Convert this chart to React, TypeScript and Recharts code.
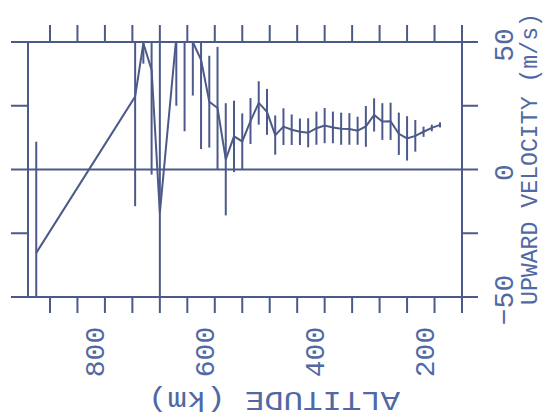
import React from 'react';
import {
  ComposedChart,
  Line,
  XAxis,
  YAxis,
  ErrorBar,
  ReferenceLine,
} from 'recharts';

// altitude (km), upward velocity (m/s) and its error half-width
const altitudes = [
  925, 745, 730, 715, 700, 670, 655, 640, 625, 610, 595, 580, 565, 550, 535,
  520, 505, 490, 475, 460, 445, 430, 415, 400, 385, 370, 355, 340, 325, 310,
  295, 280, 265, 250, 235, 220, 205, 190,
];
const velocity = [
  -32.7, 28.6, 49.5, 39, -17, 52, 53, 50, 43, 26.6, 24.1, 4, 13, 11, 19,
  26.1, 22.6, 13.5, 16.8, 15.6, 14.8, 14.4, 16.2, 17.2, 16.5, 16, 15.9, 15.2, 16.9, 21.4,
  18.8, 18.9, 14, 12.2, 13.2, 14.8, 16.3, 17.5,
];
const errors = [
  43.6, 43, 8, 41, 70, 27, 38, 21, 35, 18, 24, 22, 14, 11, 9,
  8.5, 9, 7.7, 7.2, 6, 5.2, 5.7, 6.5, 6.9, 6.2, 6.3, 6.2, 5.5, 8, 6.5,
  7.2, 7.3, 8.3, 8.7, 6.2, 2, 1.3, 1,
];

const altTicks = [150, 200, 250, 300, 350, 400, 450, 500, 550, 600, 650, 700, 750, 800, 850, 900];
const altLabels = [800, 600, 400, 200];
const velTicks = [-50, -25, 0, 25, 50];
const velLabels = [-50, 0, 50];
const velMin = -50;
const velMax = 50;

// error bars are cut at the plot frame, like the original
const data = altitudes.map((alt, i) => {
  const v = velocity[i];
  const e = errors[i];
  const low = v - Math.max(v - e, velMin);
  const high = Math.min(v + e, velMax) - v;
  return { alt, vel: v, err: [low, high] };
});

const ink = '#4c5a8a';
const textInk = '#5069a3';
const font = '"Liberation Mono", monospace';

const noTick = () => <g />;

const AltTick = (props: any) => {
  const { x, y, payload } = props;
  if (!altLabels.includes(payload.value)) return <g />;
  const cx = x - 8;
  const cy = y + 37;
  return (
    <text
      x={cx}
      y={cy}
      transform={`rotate(-90 ${cx} ${cy})`}
      textAnchor="middle"
      dominantBaseline="central"
      fill={textInk}
      fontFamily={font}
      fontSize={28}
    >
      {payload.value}
    </text>
  );
};

const VelTick = (props: any) => {
  const { x, y, payload } = props;
  if (!velLabels.includes(payload.value)) return <g />;
  const cx = x + 25;
  const cy = y + 3;
  return (
    <text
      x={cx}
      y={cy}
      transform={`rotate(-90 ${cx} ${cy})`}
      textAnchor="middle"
      dominantBaseline="central"
      fill={textInk}
      fontFamily={font}
      fontSize={28}
    >
      {payload.value === -50 ? '\u221250' : payload.value}
    </text>
  );
};

export default function App() {
  return (
    <div style={{ position: 'absolute', left: 0, top: 0, width: 544, height: 420, background: '#fff' }}>
      <ComposedChart
        width={544}
        height={420}
        data={data}
        margin={{ top: 25, right: 0, bottom: 0, left: 11 }}
      >
        <XAxis
          xAxisId="b"
          dataKey="alt"
          type="number"
          domain={[150, 940]}
          reversed
          allowDataOverflow
          ticks={altTicks}
          interval={0}
          tickSize={16}
          height={123}
          axisLine={{ stroke: ink, strokeWidth: 2 }}
          tickLine={{ stroke: ink, strokeWidth: 2 }}
          tick={AltTick}
        />
        <XAxis
          xAxisId="t"
          orientation="top"
          dataKey="alt"
          type="number"
          domain={[150, 940]}
          reversed
          allowDataOverflow
          ticks={altTicks}
          interval={0}
          tickSize={17}
          height={17}
          axisLine={{ stroke: ink, strokeWidth: 2 }}
          tickLine={{ stroke: ink, strokeWidth: 2 }}
          tick={noTick}
        />
        <YAxis
          yAxisId="l"
          type="number"
          domain={[velMin, velMax]}
          allowDataOverflow
          ticks={velTicks}
          interval={0}
          tickSize={17}
          width={17}
          axisLine={{ stroke: ink, strokeWidth: 2 }}
          tickLine={{ stroke: ink, strokeWidth: 2 }}
          tick={noTick}
        />
        <YAxis
          yAxisId="r"
          orientation="right"
          type="number"
          domain={[velMin, velMax]}
          allowDataOverflow
          ticks={velTicks}
          interval={0}
          tickSize={16}
          width={82}
          axisLine={{ stroke: ink, strokeWidth: 2 }}
          tickLine={{ stroke: ink, strokeWidth: 2 }}
          tick={VelTick}
        />
        <ReferenceLine xAxisId="b" yAxisId="l" y={0} stroke={ink} strokeWidth={2} />
        <Line
          xAxisId="b"
          yAxisId="l"
          type="linear"
          dataKey="vel"
          stroke={ink}
          strokeWidth={2}
          dot={false}
          isAnimationActive={false}
        >
          <ErrorBar dataKey="err" direction="y" width={0} stroke={ink} strokeWidth={2} isAnimationActive={false} />
        </Line>
      </ComposedChart>
      <svg
        width={544}
        height={420}
        style={{ position: 'absolute', left: 0, top: 0, pointerEvents: 'none' }}
      >
        <text
          x={274}
          y={399}
          transform="rotate(180 274 399)"
          textAnchor="middle"
          dominantBaseline="central"
          fill={textInk}
          fontFamily={font}
          fontSize={28}
          textLength={252}
          lengthAdjust="spacingAndGlyphs"
        >
          ALTITUDE (km)
        </text>
        <text
          x={531}
          y={159}
          transform="rotate(-90 531 159)"
          textAnchor="middle"
          dominantBaseline="central"
          fill={textInk}
          fontFamily={font}
          fontSize={23}
          textLength={292}
          lengthAdjust="spacingAndGlyphs"
        >
          UPWARD VELOCITY (m/s)
        </text>
      </svg>
    </div>
  );
}
